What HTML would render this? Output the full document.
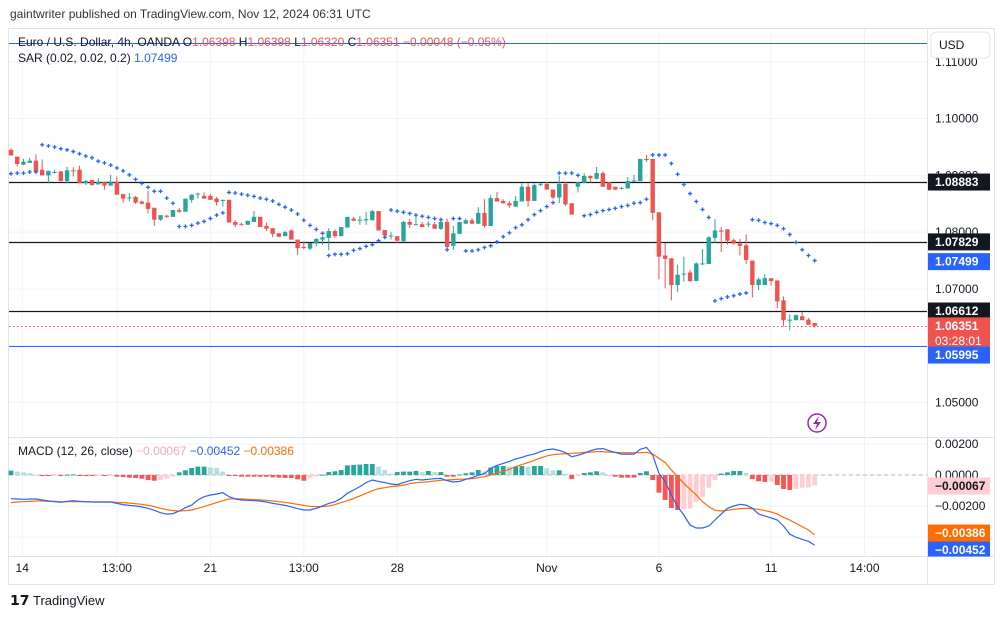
<!DOCTYPE html>
<html><head><meta charset="utf-8">
<style>
html,body{margin:0;padding:0;background:#fff;width:1004px;height:617px;overflow:hidden}
svg{display:block;font-family:"Liberation Sans",sans-serif}
</style></head>
<body>
<svg id="chart" width="1004" height="617" viewBox="0 0 1004 617">
  <text x="10" y="18" font-size="12" fill="#333">gaintwriter published on TradingView.com, Nov 12, 2024 06:31 UTC</text>
  <rect x="8.5" y="28.5" width="986" height="556" fill="none" stroke="#e0e3eb"/>
  <g id="grid"></g>
  <g id="hlines"></g>
  <g id="candles"></g>
  <g id="sar"></g>
  <g id="macd"></g>
  <line x1="8" y1="437.5" x2="994" y2="437.5" stroke="#e0e3eb"/>
  <line x1="927.5" y1="28" x2="927.5" y2="584" stroke="#e0e3eb"/>
  <line x1="8" y1="556.5" x2="994" y2="556.5" stroke="#e0e3eb"/>
  <g id="axis"></g>
  <g id="xaxis"></g>
  <rect x="931" y="32" width="59" height="26" rx="5" fill="#fff" stroke="#e0e3eb"/>
  <text x="939" y="49" font-size="12" fill="#131722">USD</text>
  <g font-size="12">
    <text x="18" y="46" fill="#131722">Euro / U.S. Dollar, 4h, OANDA  O<tspan fill="#ef5350">1.06398</tspan>  H<tspan fill="#ef5350">1.06398</tspan>  L<tspan fill="#ef5350">1.06320</tspan>  C<tspan fill="#ef5350">1.06351</tspan>  <tspan fill="#ef5350">−0.00048 (−0.05%)</tspan></text>
    <text x="18" y="62" fill="#131722">SAR (0.02, 0.02, 0.2)  <tspan fill="#2962ff">1.07499</tspan></text>
    <text x="18" y="455" fill="#131722">MACD (12, 26, close)  <tspan fill="#f7a9b5">−0.00067</tspan>  <tspan fill="#2962ff">−0.00452</tspan>  <tspan fill="#ff6d00">−0.00386</tspan></text>
  </g>
  <g>
    <circle cx="817" cy="423" r="9" fill="#fff" stroke="#9c27b0" stroke-width="1.5"/>
    <path d="M819 416 L813 424 L817 424 L815 430 L821 422 L817 422 Z" fill="#9c27b0"/>
  </g>
  <g>
    <text x="10" y="605" font-size="14" font-weight="bold" fill="#131722">𝟭𝟳</text>
    <text x="33" y="605" font-size="13" fill="#131722">TradingView</text>
  </g>
</svg>
<script>
// ---- price data (per 4h candle) ----
const opens=[1.0945,1.0933,1.0919,1.0922,1.0926,1.0910,1.0900,1.0905,1.0907,1.0890,1.0909,1.0910,1.0886,1.0892,1.0884,1.0889,1.0882,1.0889,1.0867,1.0860,1.0862,1.0854,1.0852,1.0843,1.0822,1.0829,1.0827,1.0839,1.0836,1.0857,1.0867,1.0864,1.0864,1.0859,1.0855,1.0857,1.0818,1.0814,1.0813,1.0818,1.0827,1.0811,1.0807,1.0798,1.0793,1.0803,1.0787,1.0774,1.0771,1.0780,1.0787,1.0790,1.0802,1.0793,1.0808,1.0824,1.0821,1.0821,1.0821,1.0837,1.0804,1.0793,1.0793,1.0784,1.0818,1.0814,1.0814,1.0814,1.0814,1.0806,1.0818,1.0776,1.0797,1.0815,1.0821,1.0815,1.0834,1.0811,1.0860,1.0855,1.0851,1.0845,1.0854,1.0880,1.0855,1.0884,1.0885,1.0875,1.0861,1.0885,1.0851,1.0880,1.0887,1.0899,1.0894,1.0904,1.0888,1.0880,1.0877,1.0877,1.0890,1.0890,1.0929,1.0929,1.0835,1.0759,1.0754,1.0707,1.0726,1.0729,1.0714,1.0744,1.0744,1.0790,1.0803,1.0805,1.0786,1.0780,1.0777,1.0750,1.0707,1.0707,1.0719,1.0715,1.0680,1.0645,1.0645,1.0652,1.0646,1.0640];
const highs=[1.0948,1.0933,1.0929,1.0931,1.0937,1.0928,1.0908,1.0910,1.0908,1.0915,1.0914,1.0917,1.0892,1.0892,1.0895,1.0889,1.0901,1.0898,1.0867,1.0869,1.0864,1.0856,1.0873,1.0843,1.0830,1.0831,1.0839,1.0843,1.0859,1.0867,1.0870,1.0870,1.0867,1.0862,1.0857,1.0857,1.0821,1.0817,1.0820,1.0837,1.0827,1.0817,1.0807,1.0798,1.0803,1.0805,1.0787,1.0784,1.0781,1.0790,1.0793,1.0807,1.0805,1.0809,1.0827,1.0827,1.0829,1.0836,1.0839,1.0837,1.0804,1.0800,1.0793,1.0820,1.0823,1.0831,1.0818,1.0819,1.0818,1.0823,1.0824,1.0811,1.0818,1.0824,1.0825,1.0844,1.0858,1.0865,1.0871,1.0858,1.0855,1.0864,1.0886,1.0886,1.0886,1.0887,1.0888,1.0875,1.0899,1.0888,1.0851,1.0888,1.0904,1.0900,1.0915,1.0907,1.0888,1.0880,1.0880,1.0897,1.0901,1.0929,1.0936,1.0929,1.0835,1.0781,1.0754,1.0743,1.0757,1.0734,1.0747,1.0770,1.0793,1.0823,1.0809,1.0805,1.0789,1.0788,1.0796,1.0750,1.0720,1.0726,1.0719,1.0715,1.0687,1.0655,1.0655,1.0660,1.0649,1.0640];
const lows=[1.0935,1.0916,1.0918,1.0922,1.0906,1.0900,1.0886,1.0903,1.0890,1.0886,1.0898,1.0886,1.0883,1.0882,1.0884,1.0875,1.0882,1.0866,1.0852,1.0854,1.0850,1.0849,1.0833,1.0811,1.0820,1.0825,1.0827,1.0834,1.0836,1.0852,1.0859,1.0859,1.0857,1.0847,1.0845,1.0817,1.0809,1.0812,1.0813,1.0818,1.0809,1.0802,1.0791,1.0791,1.0793,1.0787,1.0760,1.0770,1.0768,1.0775,1.0778,1.0768,1.0790,1.0793,1.0808,1.0820,1.0813,1.0813,1.0821,1.0803,1.0791,1.0787,1.0781,1.0784,1.0807,1.0813,1.0809,1.0809,1.0806,1.0804,1.0769,1.0769,1.0797,1.0814,1.0814,1.0814,1.0808,1.0811,1.0854,1.0850,1.0843,1.0845,1.0854,1.0845,1.0855,1.0881,1.0875,1.0858,1.0851,1.0846,1.0831,1.0870,1.0887,1.0887,1.0893,1.0880,1.0874,1.0874,1.0875,1.0877,1.0889,1.0890,1.0924,1.0821,1.0717,1.0701,1.0680,1.0695,1.0713,1.0712,1.0714,1.0742,1.0744,1.0781,1.0765,1.0778,1.0778,1.0759,1.0744,1.0685,1.0698,1.0707,1.0706,1.0666,1.0634,1.0627,1.0645,1.0645,1.0637,1.0632];
const closes=[1.0935,1.0920,1.0924,1.0926,1.0906,1.0900,1.0908,1.0906,1.0890,1.0909,1.0908,1.0886,1.0890,1.0883,1.0889,1.0882,1.0889,1.0866,1.0859,1.0861,1.0852,1.0850,1.0841,1.0822,1.0830,1.0827,1.0839,1.0836,1.0859,1.0866,1.0868,1.0859,1.0857,1.0853,1.0857,1.0817,1.0813,1.0813,1.0820,1.0827,1.0809,1.0806,1.0797,1.0792,1.0800,1.0787,1.0772,1.0772,1.0781,1.0788,1.0791,1.0802,1.0793,1.0809,1.0827,1.0820,1.0822,1.0823,1.0837,1.0803,1.0794,1.0794,1.0785,1.0818,1.0813,1.0814,1.0809,1.0815,1.0806,1.0818,1.0774,1.0798,1.0818,1.0821,1.0815,1.0834,1.0811,1.0860,1.0854,1.0851,1.0847,1.0855,1.0880,1.0855,1.0883,1.0885,1.0875,1.0861,1.0885,1.0849,1.0831,1.0888,1.0899,1.0895,1.0904,1.0880,1.0875,1.0875,1.0878,1.0890,1.0891,1.0929,1.0927,1.0834,1.0757,1.0753,1.0707,1.0725,1.0727,1.0714,1.0745,1.0745,1.0791,1.0803,1.0801,1.0785,1.0780,1.0776,1.0751,1.0707,1.0717,1.0719,1.0714,1.0678,1.0645,1.0646,1.0654,1.0645,1.0637,1.0635];
const sarValues=[1.0903,1.0904,1.0904,1.0906,1.0906,1.0954,1.0952,1.0950,1.0947,1.0945,1.0942,1.0938,1.0934,1.0931,1.0925,1.0922,1.0918,1.0913,1.0908,1.0901,1.0893,1.0886,1.0879,1.0872,1.0872,1.0860,1.0851,1.0810,1.0810,1.0812,1.0816,1.0819,1.0824,1.0830,1.0834,1.0870,1.0869,1.0867,1.0865,1.0863,1.0860,1.0858,1.0855,1.0849,1.0844,1.0839,1.0832,1.0821,1.0812,1.0805,1.0798,1.0759,1.0761,1.0761,1.0762,1.0768,1.0771,1.0775,1.0778,1.0785,1.0791,1.0839,1.0837,1.0835,1.0833,1.0830,1.0828,1.0826,1.0824,1.0822,1.0769,1.0824,1.0824,1.0767,1.0767,1.0769,1.0773,1.0776,1.0783,1.0792,1.0799,1.0808,1.0813,1.0822,1.0831,1.0838,1.0845,1.0852,1.0904,1.0904,1.0904,1.0900,1.0829,1.0831,1.0835,1.0838,1.0840,1.0842,1.0845,1.0847,1.0851,1.0852,1.0858,1.0936,1.0936,1.0936,1.0921,1.0902,1.0884,1.0868,1.0854,1.0840,1.0826,1.0679,1.0683,1.0686,1.0688,1.0691,1.0693,1.0822,1.0821,1.0817,1.0815,1.0812,1.0806,1.0796,1.0782,1.0769,1.0759,1.0750];
// ---- MACD data, in units of 0.00001 ----
const macdE5=[-153,-155,-157,-155,-155,-161,-168,-172,-176,-170,-166,-170,-172,-174,-174,-174,-174,-183,-191,-196,-200,-206,-215,-228,-243,-252,-249,-232,-211,-194,-161,-140,-129,-123,-114,-140,-155,-161,-163,-166,-168,-174,-183,-189,-196,-206,-217,-226,-226,-215,-200,-183,-172,-151,-118,-97,-75,-49,-32,-41,-49,-58,-62,-49,-37,-28,-32,-28,-24,-22,-37,-45,-41,-28,-17,-2,9,43,62,75,88,103,114,127,135,151,163,168,159,144,118,127,140,157,168,170,157,146,135,135,135,166,178,129,11,-43,-129,-204,-258,-323,-342,-342,-329,-290,-252,-215,-200,-189,-194,-215,-252,-264,-277,-290,-329,-381,-402,-415,-428,-452];
const signalE5=[-178,-174,-172,-170,-168,-168,-170,-170,-172,-172,-172,-172,-172,-174,-174,-174,-174,-176,-178,-181,-185,-189,-196,-204,-215,-224,-230,-232,-230,-226,-215,-204,-191,-178,-166,-155,-153,-155,-157,-159,-161,-163,-168,-172,-176,-183,-189,-196,-202,-204,-204,-200,-191,-178,-166,-151,-135,-118,-101,-88,-82,-75,-71,-65,-56,-49,-47,-43,-39,-34,-32,-30,-28,-26,-24,-17,-11,0,13,24,37,54,67,80,95,110,123,131,135,138,140,142,146,148,151,151,148,146,144,144,144,144,146,135,108,80,32,-11,-54,-92,-129,-172,-204,-228,-232,-228,-221,-217,-215,-217,-221,-230,-239,-252,-273,-290,-312,-333,-355,-386];
const histE5=[28,22,17,11,2,-4,-6,-2,-4,2,4,-2,-6,-6,-2,-6,-4,-11,-13,-17,-19,-24,-32,-37,-32,-24,-11,17,30,45,54,54,49,45,22,-2,-6,-11,-11,-11,-11,-11,-15,-17,-19,-19,-28,-37,-19,-9,2,19,24,32,62,65,67,71,71,54,32,9,19,22,22,26,19,26,19,19,-11,-11,4,11,17,32,22,47,58,58,54,54,58,54,58,58,43,30,30,9,-26,-9,13,17,24,17,0,-11,-17,-17,-17,13,24,-32,-114,-161,-213,-226,-219,-215,-174,-142,-82,-32,9,17,26,26,13,-26,-41,-45,-43,-65,-90,-97,-90,-82,-80,-67];
const priceTicks=["1.11000","1.10000","1.09000","1.08000","1.07000","1.06000","1.05000"];
const macdTicks=["0.00200","0.00000","−0.00200"];
const timeLabels=["14","13:00","21","13:00","28","Nov","6","11","14:00"];
const timeLabelIdx=[1.8,17,32,47,62,86,104,122,137];
const levelPrices=[1.08883,1.07829,1.06612];
const blueLevels=[1.1134,1.05995];

const NS="http://www.w3.org/2000/svg";
const X0=11, STEP=6.23;
const xOf=i=>X0+STEP*i;
const yP=p=>118.6+(1.10-p)*5679;
const yM=v=>475-v*15500;
function mk(tag,attrs,parent){const e=document.createElementNS(NS,tag);for(const k in attrs)e.setAttribute(k,attrs[k]);parent.appendChild(e);return e;}
const grid=document.getElementById('grid');
priceTicks.forEach(t=>{const y=yP(parseFloat(t));if(y<30)return;
  const l=mk('line',{x1:9,x2:927,y1:y,y2:y,stroke:'#f0f3fa'},grid);
  
  });
[0.002,0,-0.002,-0.004].forEach(v=>{const y=yM(v);
  const l=mk('line',{x1:9,x2:927,y1:y,y2:y,stroke:'#f0f3fa'},grid);
  
  });
timeLabelIdx.forEach(i=>{const x=xOf(i);
  const l=mk('line',{x1:x,x2:x,y1:29,y2:556,stroke:'#f0f3fa'},grid);
  
  });
const hl=document.getElementById('hlines');
levelPrices.forEach(p=>{const y=Math.round(yP(p))+0.5;
  const l=mk('line',{x1:9,x2:927,y1:y,y2:y,stroke:'#131722','stroke-width':1.3},hl);
  
  });
blueLevels.forEach(p=>{const y=Math.round(yP(p))+0.5;
  const l=mk('line',{x1:9,x2:927,y1:y,y2:y,stroke:'#2962ff','stroke-width':1},hl);
  
  });
const lastClose=closes[closes.length-1];
{const y=Math.round(yP(lastClose))+0.5;
 const l=mk('line',{x1:9,x2:927,y1:y,y2:y,stroke:'#ef5350','stroke-dasharray':'1.5 2.5'},hl);
 
 }
const cg=document.getElementById('candles');
for(let i=0;i<opens.length;i++){
  const o=opens[i],c=closes[i],h=highs[i],l=lows[i],up=c>=o,col=up?'#26a69a':'#ef5350',x=xOf(i);
  const g=mk('g',{},cg);
  
  
  mk('line',{x1:x,x2:x,y1:yP(h),y2:yP(l),stroke:col,'stroke-width':1},g);
  const yt=yP(Math.max(o,c)),yb=yP(Math.min(o,c));
  mk('rect',{x:x-2.2,y:yt,width:4.4,height:Math.max(1,yb-yt),fill:col},g);
}
const sg=document.getElementById('sar');
sarValues.forEach((v,i)=>{const x=xOf(i),y=yP(v);
  const p=mk('path',{d:`M${x-2} ${y}H${x+2}M${x} ${y-2}V${y+2}`,stroke:'#2962ff','stroke-width':1.3},sg);
  
  });
const mg=document.getElementById('macd');
mk('line',{x1:9,x2:927,y1:yM(0),y2:yM(0),stroke:'#b2b5be','stroke-dasharray':'4 3'},mg);
histE5.forEach((h,i)=>{const v=h/1e5,prev=i>0?histE5[i-1]:h;let col;
  if(h>=0)col=h>=prev?'#26a69a':'#b2dfdb';else col=h<=prev?'#ff5252':'#ffcdd2';
  const y0=yM(0),y1=yM(v);
  const r=mk('rect',{x:xOf(i)-2.4,y:Math.min(y0,y1),width:4.8,height:Math.max(1,Math.abs(y1-y0)),fill:col},mg);
  
  });
const lineD=arr=>arr.map((v,i)=>(i?'L':'M')+xOf(i).toFixed(1)+' '+yM(v/1e5).toFixed(1)).join('');
const sl=mk('path',{d:lineD(signalE5),fill:'none',stroke:'#ff6d00','stroke-width':1.2},mg);


const ml=mk('path',{d:lineD(macdE5),fill:'none',stroke:'#2962ff','stroke-width':1.2},mg);


const ax=document.getElementById('axis');
priceTicks.forEach(t=>{const y=yP(parseFloat(t));if(y<40)return;
  const tx=mk('text',{x:935,y:y+4,'font-size':12,fill:'#131722'},ax);tx.textContent=t;
  
  });
macdTicks.forEach((t,k)=>{const y=yM([0.002,0,-0.002][k]);
  const tx=mk('text',{x:935,y:y+4,'font-size':12,fill:'#131722'},ax);tx.textContent=t;
  
  });
function tag(y,h,bg,fg,lines,name){const g=mk('g',{},ax);
  
  
  mk('rect',{x:928,y:y-h/2,width:62,height:h,fill:bg},g);
  lines.forEach((s,k)=>{const t=mk('text',{x:935,y:y-h/2+12.5+k*15,'font-size':12,fill:fg,'font-weight':k?'normal':'bold'},g);t.textContent=s;});}
tag(yP(1.08883),17,'#131722','#fff',['1.08883'],'level-label-1');
tag(yP(1.07829),17,'#131722','#fff',['1.07829'],'level-label-2');
tag(yP(1.07499)+1,17,'#2962ff','#fff',['1.07499'],'sar-value-label');
tag(yP(1.06612),17,'#131722','#fff',['1.06612'],'level-label-3');
tag(yP(lastClose)+7,31,'#ef5350','#fff',['1.06351','03:28:01'],'last-price-label');
tag(yP(1.05995)+9,17,'#2962ff','#fff',['1.05995'],'blue-line-label');
tag(486,17,'#ffcdd2','#131722',['−0.00067'],'histogram-value-label');
tag(533,17,'#ff6d00','#fff',['−0.00386'],'signal-value-label');
tag(549,15,'#2962ff','#fff',['−0.00452'],'macd-value-label');
const xa=document.getElementById('xaxis');
timeLabels.forEach((t,k)=>{const x=xOf(timeLabelIdx[k]);
  const tx=mk('text',{x:x,y:572,'font-size':12,fill:'#131722','text-anchor':'middle'},xa);tx.textContent=t;
  
  });
</script>
</body></html>
